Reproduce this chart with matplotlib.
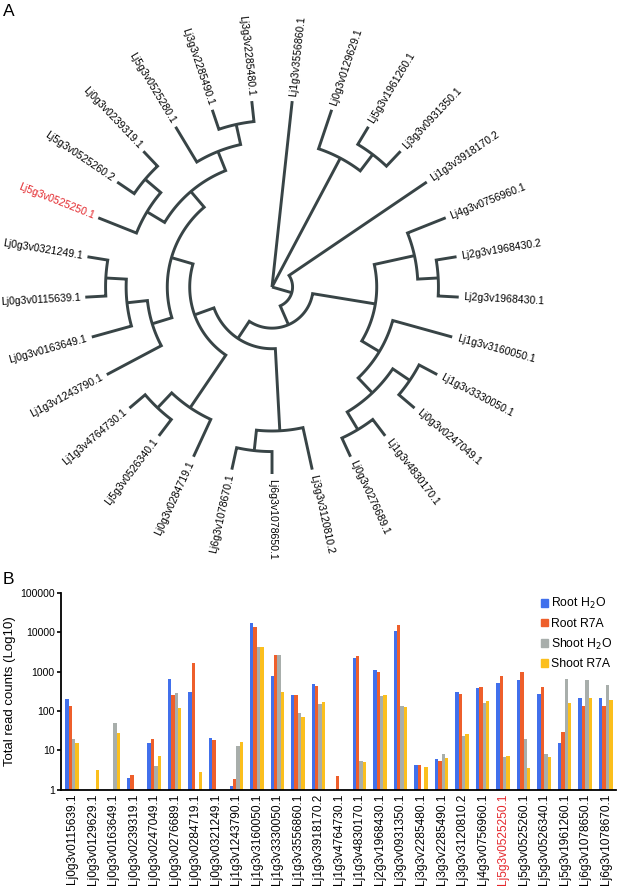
import re
import numpy as np
import matplotlib
matplotlib.use('Agg')
import matplotlib.pyplot as plt
from matplotlib.patches import Patch

plt.rcParams['font.family'] = ['Liberation Sans', 'DejaVu Sans']

# Panel A: tree topology with branch lengths (root -> tips = 1.0)
tree_newick = (
    "(Lj1g3v3556860.1:1.0,"
    "(Lj0g3v0129629.1:0.22,(Lj5g3v1961260.1:0.11,Lj3g3v0931350.1:0.11):0.11):0.78,"
    "(Lj1g3v3918170.2:0.89,"
    "("
    "("
    "(Lj4g3v0756960.1:0.22,(Lj2g3v1968430.2:0.11,Lj2g3v1968430.1:0.11):0.11):0.22,"
    "(Lj1g3v3160050.1:0.33,((Lj1g3v3330050.1:0.11,Lj0g3v0247049.1:0.11):0.11,"
    "(Lj1g3v4830170.1:0.11,Lj0g3v0276689.1:0.11):0.11):0.11):0.11"
    "):0.34,"
    "("
    "(Lj3g3v3120810.2:0.23,(Lj6g3v1078650.1:0.12,Lj6g3v1078670.1:0.12):0.11):0.44,"
    "("
    "(Lj0g3v0284719.1:0.22,(Lj5g3v0526340.1:0.11,Lj1g3v4764730.1:0.11):0.11):0.34,"
    "("
    "(Lj1g3v1243790.1:0.33,(Lj0g3v0163649.1:0.22,"
    "(Lj0g3v0115639.1:0.11,Lj0g3v0321249.1:0.11):0.11):0.11):0.11,"
    "((Lj5g3v0525250.1:0.22,(Lj5g3v0525260.2:0.11,Lj0g3v0239319.1:0.11):0.11):0.11,"
    "(Lj5g3v0525280.1:0.22,(Lj3g3v2285490.1:0.11,Lj3g3v2285480.1:0.11):0.11):0.11):0.11"
    "):0.12"
    "):0.11"
    "):0.11"
    "):0.11"
    "):0.11"
    ");"
)
highlight = 'Lj5g3v0525250.1'

# Panel B: read counts
genes = ['Lj0g3v0115639.1', 'Lj0g3v0129629.1', 'Lj0g3v0163649.1', 'Lj0g3v0239319.1',
         'Lj0g3v0247049.1', 'Lj0g3v0276689.1', 'Lj0g3v0284719.1', 'Lj0g3v0321249.1',
         'Lj1g3v1243790.1', 'Lj1g3v3160050.1', 'Lj1g3v3330050.1', 'Lj1g3v3556860.1',
         'Lj1g3v3918170.2', 'Lj1g3v4764730.1', 'Lj1g3v4830170.1', 'Lj2g3v1968430.1',
         'Lj3g3v0931350.1', 'Lj3g3v2285480.1', 'Lj3g3v2285490.1', 'Lj3g3v3120810.2',
         'Lj4g3v0756960.1', 'Lj5g3v0525250.1', 'Lj5g3v0525260.1', 'Lj5g3v0526340.1',
         'Lj5g3v1961260.1', 'Lj6g3v1078650.1', 'Lj6g3v1078670.1']
root_h2o = [197, 0, 0, 2.0, 15.5, 660, 308, 20, 1.25, 17500, 770, 250, 490, 0, 2260,
            1120, 11000, 4.2, 5.9, 303, 383, 520, 620, 264, 15, 217, 217]
root_r7a = [136, 0, 0, 2.4, 18.9, 250, 1620, 18.4, 1.88, 13600, 2600, 250, 438, 2.2, 2450,
            990, 15000, 4.2, 5.4, 264, 398, 760, 960, 413, 29.6, 136, 136]
shoot_h2o = [18.9, 0, 48, 0, 4.0, 280, 0, 0, 12.8, 4150, 2600, 87, 147, 0, 5.4,
             239, 133, 0, 8.0, 23.4, 155, 6.7, 18.9, 7.9, 637, 612, 456]
shoot_r7a = [15, 3.1, 27, 0, 7.2, 119, 2.84, 0, 15.8, 4150, 303, 69, 171, 0, 5.0,
             254, 123, 3.8, 6.5, 25.7, 182, 7.2, 3.6, 6.9, 162, 217, 189]
series_names = ['Root H$_2$O', 'Root R7A', 'Shoot H$_2$O', 'Shoot R7A']
series_colors = ['#4170ec', '#ee5f2b', '#a8aeab', '#fbbf1d']


def parse_newick(s):
    pos = 0

    def node():
        nonlocal pos
        kids = []
        if s[pos] == '(':
            pos += 1
            while True:
                kids.append(node())
                if s[pos] == ',':
                    pos += 1
                    continue
                pos += 1
                break
        name = re.match(r'[^:,();]*', s[pos:]).group(0)
        pos += len(name)
        length = 0.0
        if s[pos] == ':':
            m = re.match(r':([0-9.]+)', s[pos:])
            length = float(m.group(1))
            pos += len(m.group(0))
        return {'name': name, 'length': length, 'children': kids}

    return node()


def layout(n, depth, leaves, start, step):
    n['depth'] = depth + n['length']
    if not n['children']:
        n['angle'] = start - len(leaves) * step
        leaves.append(n)
    else:
        for c in n['children']:
            layout(c, n['depth'], leaves, start, step)
        n['angle'] = (n['children'][0]['angle'] + n['children'][-1]['angle']) / 2


def pol(r, a):
    t = np.radians(a)
    return r * np.cos(t), r * np.sin(t)


def draw(ax, n, R, color, lw):
    kids = n['children']
    if not kids:
        return
    r0 = n['depth'] * R
    for i, c in enumerate(kids):
        if r0 == 0 or 0 < i < len(kids) - 1:
            xs, ys = zip(pol(r0, c['angle']), pol(c['depth'] * R, c['angle']))
            ax.plot(xs, ys, color=color, lw=lw, solid_capstyle='butt')
    if r0 > 0:
        a1, a2 = kids[0]['angle'], kids[-1]['angle']
        arc = np.radians(np.linspace(a1, a2, 80))
        p1 = pol(kids[0]['depth'] * R, a1)
        p2 = pol(kids[-1]['depth'] * R, a2)
        xs = [p1[0]] + list(r0 * np.cos(arc)) + [p2[0]]
        ys = [p1[1]] + list(r0 * np.sin(arc)) + [p2[1]]
        ax.plot(xs, ys, color=color, lw=lw, solid_capstyle='butt', solid_joinstyle='miter')
    for c in kids:
        draw(ax, c, R, color, lw)


W, H = 617, 891
fig = plt.figure(figsize=(W / 100, H / 100), dpi=100)

# ---- Panel A ----
tree_h = 578
cx, cy, R = 272, 287, 187
axA = fig.add_axes([0, 1 - tree_h / H, 1, tree_h / H])
axA.set_xlim(-cx, W - cx)
axA.set_ylim(cy - tree_h, cy)
axA.set_axis_off()

tree = parse_newick(tree_newick)
leaves = []
layout(tree, 0.0, leaves, 83.8, 360 / 29)
draw(axA, tree, R, '#384446', 2.1)
for lf in leaves:
    a = lf['angle']
    x, y = pol(R + 5, a)
    col = '#e3262b' if lf['name'] == highlight else 'black'
    if -90 < a < 90:
        axA.text(x, y, lf['name'], rotation=a, ha='left', va='center',
                 rotation_mode='anchor', fontsize=7.6, color=col)
    else:
        axA.text(x, y, lf['name'], rotation=a - 180, ha='right', va='center',
                 rotation_mode='anchor', fontsize=7.6, color=col)
fig.text(3 / W, 1 - 4 / H, 'A', fontsize=12.5, va='top', ha='left')

# ---- Panel B ----
left, right, top, bottom = 61, 616, 593, 789.5
axB = fig.add_axes([left / W, 1 - bottom / H, (right - left) / W, (bottom - top) / H])
x = np.arange(len(genes))
w = 0.165
for k, vals in enumerate([root_h2o, root_r7a, shoot_h2o, shoot_r7a]):
    axB.bar(x + (k - 1.5) * w, vals, width=w, color=series_colors[k], linewidth=0)
axB.set_yscale('log')
axB.set_ylim(1, 100000)
axB.set_xlim(-0.54, 26.5)
axB.set_yticks([1, 10, 100, 1000, 10000, 100000])
axB.set_yticklabels(['1', '10', '100', '1000', '10000', '100000'], fontsize=7.5)
axB.yaxis.set_minor_locator(matplotlib.ticker.NullLocator())
axB.set_xticks(x)
axB.set_xticklabels(genes, rotation=90, fontsize=8.6)
for lbl in axB.get_xticklabels():
    if lbl.get_text() == highlight:
        lbl.set_color('#e3262b')
axB.tick_params(axis='x', length=0, pad=3)
axB.tick_params(axis='y', length=3, width=1.2, pad=1.5)
for side in ['top', 'right']:
    axB.spines[side].set_visible(False)
for side in ['left', 'bottom']:
    axB.spines[side].set_linewidth(1.3)
axB.set_ylabel('Total read counts (Log10)', fontsize=9.5, labelpad=3)

handles = [Patch(color=c) for c in series_colors]
fig.legend(handles, series_names, loc='upper left', bbox_to_anchor=(541 / W, 1 - 596 / H),
           frameon=False, fontsize=8.8, handlelength=0.6, handleheight=0.6,
           handletextpad=0.2, labelspacing=0.55, borderpad=0, borderaxespad=0)
fig.text(3 / W, 1 - 572 / H, 'B', fontsize=12.5, va='top', ha='left')

fig.savefig('out.png', dpi=100)
